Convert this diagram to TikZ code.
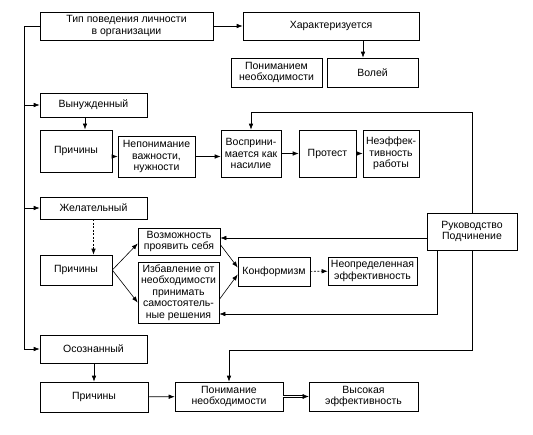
\documentclass[tikz,border=0pt]{standalone}
\usepackage{fontspec}
\setmainfont{Liberation Sans}
\usetikzlibrary{arrows.meta,calc}
\begin{document}
\begin{tikzpicture}[x=1pt,y=-1pt,
  box/.style={draw, line width=0.6pt, align=center, inner sep=0.5pt,
    font=\fontsize{10.5}{11.5}\selectfont},
  thickbox/.style={box, line width=1pt},
  arr/.style={line width=0.6pt, -{Latex[length=6pt,width=4.5pt]}},
  dsh/.style={arr, dash pattern=on 2pt off 1.5pt}]
\useasboundingbox (0,0) rectangle (533,434);
\fill[white] (0,0) rectangle (533,434);
% nodes
\node[thickbox, minimum width=173, minimum height=28] (top) at (126.5,26) {Тип поведения личности\\в организации};
\node[box, minimum width=176, minimum height=28] (har) at (331,26) {Характеризуется};
\node[box, minimum width=91, minimum height=29] (pon) at (276.5,72.5) {Пониманием\\необходимости};
\node[box, minimum width=91, minimum height=29] (vol) at (372.5,72.5) {Волей};
\node[box, minimum width=107, minimum height=24] (vyn) at (93.5,105) {Вынужденный};
\node[thickbox, minimum width=72, minimum height=42] (pr1) at (76,151) {Причины};
\node[box, minimum width=77, minimum height=41] (nep) at (156.5,156.5) {Непонимание\\важности,\\нужности};
\node[box, minimum width=60, minimum height=47] (vos) at (251,153.5) {Восприни-\\мается как\\насилие};
\node[box, minimum width=57, minimum height=47] (pro) at (327.5,153.5) {Протест};
\node[box, minimum width=56, minimum height=47] (nef) at (391,153.5) {Неэффек-\\тивность\\работы};
\node[box, minimum width=107, minimum height=22] (zhe) at (93.5,208) {Желательный};
\node[box, minimum width=72, minimum height=30] (pr2) at (76,270) {Причины};
\node[box, minimum width=82, minimum height=27] (voz) at (179,241.5) {Возможность\\проявить себя};
\node[box, minimum width=81, minimum height=61] (izb) at (178.5,292.5) {Избавление от\\необходимости\\принимать\\самостоятель-\\ные решения};
\node[box, minimum width=72, minimum height=29] (kon) at (274,271.5) {Конформизм};
\node[box, minimum width=89, minimum height=28] (neo) at (372.5,271) {Неопределенная\\эффективность};
\node[box, minimum width=90, minimum height=37] (ruk) at (472,231.5) {Руководство\\Подчинение};
\node[box, minimum width=107, minimum height=28] (oso) at (93.5,349) {Осознанный};
\node[box, minimum width=108, minimum height=30] (pr3) at (94,397) {Причины};
\node[box, minimum width=108, minimum height=29] (pnm) at (229,396.5) {Понимание\\необходимости};
\node[box, minimum width=109, minimum height=29] (vys) at (363.5,396.5) {Высокая\\эффективность};
% helper coordinates
\coordinate (L) at (24,26);
\coordinate (h1) at (363,0);
\coordinate (h2) at (85,0);
\coordinate (t1) at (472,112);
\coordinate (t2) at (472,350);
\coordinate (t3) at (437,314);
\coordinate (y1) at (0,238);
% connectors
\draw[arr] (top) -- (har);
\draw[arr] (har.south -| h1) -- (vol.north -| h1);
\draw[line width=0.6pt] (top.west) -- (L);
\draw[arr] (L) |- (oso.west);
\draw[arr] (L |- vyn.west) -- (vyn.west);
\draw[arr] (L |- zhe.west) -- (zhe.west);
\draw[arr] (vyn.south -| h2) -- (pr1.north -| h2);
\draw[arr] (pr1.east |- nep) -- (nep.west);
\draw[arr] (nep.east) -- (nep.east -| vos.west);
\draw[arr] (vos) -- (pro);
\draw[arr] (pro) -- (nef);
\draw[arr] (ruk.north) -- (t1) -| (vos.north);
\draw[arr] (ruk.south) -- (t2) -| (pnm.north);
\draw[arr] (ruk.west |- y1) -- (voz.east |- y1);
\draw[arr] (ruk.south -| t3) -- (t3) -- (t3 -| izb.east);
\draw[dsh] (zhe.south) -- (zhe.south |- pr2.north);
\draw[arr] (pr2.east) -- ([yshift=-2pt]voz.west);
\draw[arr] (pr2.east) -- ([yshift=-10pt]izb.west);
\draw[arr] ([yshift=-3pt]voz.east) -- ([yshift=4pt]kon.west);
\draw[arr] ([yshift=-7pt]izb.east) -- ([yshift=-3pt]kon.west);
\draw[dsh] (kon) -- (neo);
\draw[arr] (oso.south -| pr3.north) -- (pr3.north);
\draw[arr] (pr3) -- (pnm);
\draw[line width=0.5pt, double, double distance=1.5pt, -{Latex[length=6pt,width=5pt]}] (pnm) -- (vys);
\end{tikzpicture}
\end{document}
